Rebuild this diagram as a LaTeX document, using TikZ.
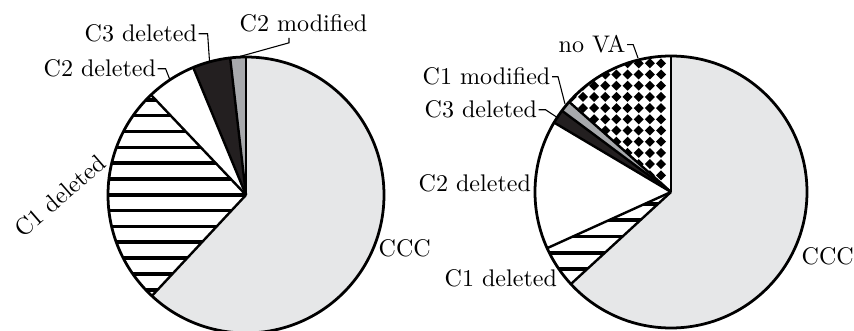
\documentclass[tikz,border=0pt]{standalone}
\usetikzlibrary{calc}
\definecolor{cccgray}{HTML}{E6E7E8}
\definecolor{modgray}{HTML}{A7A9AC}
\definecolor{delblack}{HTML}{231F20}
\begin{document}
\begin{tikzpicture}[x=0.4157pt,y=0.4157pt,
  lbl/.style={inner xsep=0.5pt, inner ysep=2pt, font=\normalsize, anchor=base west},
  lead/.style={line width=0.45pt},
  sep/.style={line width=1pt, line join=round},
  rim/.style={line width=1.15pt},
  hatchline/.style={line width=1.5pt}]
\useasboundingbox (0,0) rectangle (854,-331);

% ---------------- left pie ----------------
\coordinate (L) at (246,-195);
\def\rl{138}
\fill[cccgray] (L) -- ++(-133:\rl) arc[start angle=-133, end angle=90, radius=\rl] -- cycle;
\fill[white] (L) -- ++(133.5:\rl) arc[start angle=133.5, end angle=227, radius=\rl] -- cycle;
\begin{scope}
  \clip (L) -- ++(133.5:\rl) arc[start angle=133.5, end angle=227, radius=\rl] -- cycle;
  \foreach \k in {0,...,14}
    \draw[hatchline] (90,{-84-15.83*\k}) -- (260,{-84-15.83*\k});
\end{scope}
\fill[white] (L) -- ++(112.5:\rl) arc[start angle=112.5, end angle=133.5, radius=\rl] -- cycle;
\fill[delblack] (L) -- ++(96.6:\rl) arc[start angle=96.6, end angle=112.5, radius=\rl] -- cycle;
\fill[modgray] (L) -- ++(90:\rl) arc[start angle=90, end angle=96.6, radius=\rl] -- cycle;
\foreach \a in {90,96.6,112.5,133.5,227}
  \draw[sep] (L) -- ++(\a:\rl);
\draw[rim] (L) circle[radius=\rl];

\node[lbl] (c2m) at (238,-32) {C2 modified};
\node[lbl] (c3l) at (83,-42) {C3 deleted};
\node[lbl] (c2l) at (42,-77) {C2 deleted};
\node[lbl, rotate=41] (c1l) at (22,-240) {C1 deleted};
\node[lbl] (cccl) at (377,-257) {CCC};
\coordinate (t-c2m) at (238,-57);
\coordinate (t-c3l) at (209.5,-61);
\coordinate (t-c2l) at (170,-80);
\draw[lead] ([xshift=21.2pt]c2m.south west) -- ++(0,-5) -- (t-c2m);
\draw[lead] (c3l.east) -- ++(9,0) -- (t-c3l);
\draw[lead] (c2l.east) -- ++(8,0) -- (t-c2l);

% ---------------- right pie ----------------
\coordinate (R) at (671,-192);
\def\rr{136}
\fill[cccgray] (R) -- ++(-137.4:\rr) arc[start angle=-137.4, end angle=90, radius=\rr] -- cycle;
\fill[white] (R) -- ++(204.4:\rr) arc[start angle=204.4, end angle=222.6, radius=\rr] -- cycle;
\begin{scope}
  \clip (R) -- ++(204.4:\rr) arc[start angle=204.4, end angle=222.6, radius=\rr] -- cycle;
  \foreach \k in {-2,...,6}
    \draw[hatchline] (520,{-204-16.25*\k}) -- (680,{-204-16.25*\k});
\end{scope}
\fill[white] (R) -- ++(149.3:\rr) arc[start angle=149.3, end angle=204.4, radius=\rr] -- cycle;
\fill[delblack] (R) -- ++(143.3:\rr) arc[start angle=143.3, end angle=149.3, radius=\rr] -- cycle;
\fill[modgray] (R) -- ++(138.5:\rr) arc[start angle=138.5, end angle=143.3, radius=\rr] -- cycle;
\fill[white] (R) -- ++(90:\rr) arc[start angle=90, end angle=138.5, radius=\rr] -- cycle;
\begin{scope}
  \clip (R) -- ++(90:\rr) arc[start angle=90, end angle=138.5, radius=\rr] -- cycle;
  \foreach \i in {0,...,12}
    \foreach \j in {-1,...,12}
      \fill ({661-11.15*\i},{-63.3-11.2*\j}) +(5,0) -- +(0,5) -- +(-5,0) -- +(0,-5) -- cycle;
\end{scope}
\foreach \a in {90,138.5,143.3,149.3,204.4,222.6}
  \draw[sep] (R) -- ++(\a:\rr);
\draw[rim] (R) circle[radius=\rr];

\node[lbl] (nova) at (557,-53) {no VA};
\node[lbl] (c1m) at (421,-85) {C1 modified};
\node[lbl] (c3r) at (423,-118) {C3 deleted};
\node[lbl] (c2r) at (417,-192) {C2 deleted};
\node[lbl] (c1r) at (443,-287) {C1 deleted};
\node[lbl] (cccr) at (800,-265) {CCC};
\coordinate (t-nova) at (638,-58);
\coordinate (t-c1m) at (565,-104);
\coordinate (t-c3r) at (558,-118);
\draw[lead] (nova.east) -- ++(6,0) -- (t-nova);
\draw[lead] (c1m.east) -- ++(6,0) -- (t-c1m);
\draw[lead] (c3r.east) -- ++(7,0) -- (t-c3r);
\end{tikzpicture}
\end{document}
